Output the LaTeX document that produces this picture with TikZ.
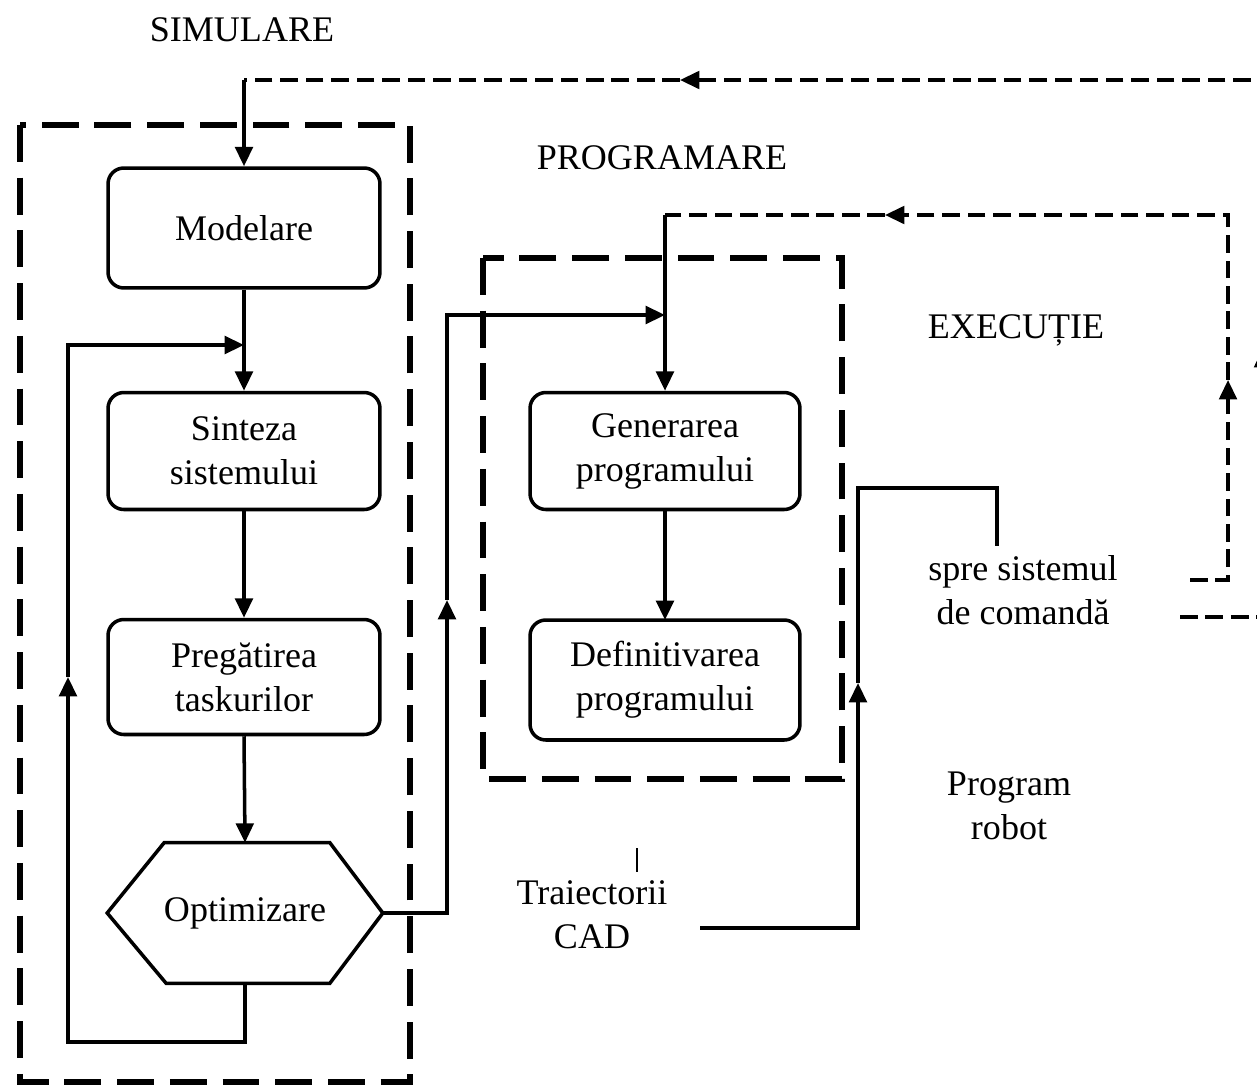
\documentclass[tikz,border=0pt]{standalone}
\usepackage{fontspec}
\setmainfont{Liberation Serif}
\usetikzlibrary{arrows.meta,calc}
\begin{document}
\begin{tikzpicture}[x=0.02cm,y=-0.02cm,
  every node/.style={font=\fontsize{20.5pt}{25pt}\selectfont, align=center, inner sep=0pt},
  conn/.style={line width=2pt},
  tip/.style={-{Triangle[length=11pt,width=10pt]}},
  box/.style={draw, line width=2pt, rounded corners=9pt, minimum width=5.44cm},
  groupframe/.style={line width=3pt, dash pattern=on 21pt off 9pt},
  fback/.style={line width=1.9pt, dash pattern=on 10pt off 4.5pt},
]
\clip (0,0) rectangle (1257,1085);

% group frames
\draw[groupframe] (20,125) rectangle (410,1082);
\draw[groupframe] (483,258) rectangle (842,779);

% group titles
\node (tsim) at (242,30) {SIMULARE};
\node (tprog) at (662,158) {PROGRAMARE};
\node (texec) at (1016,330) {EXECUȚIE};

% simulation chain
\node[box, minimum height=2.4cm] (mod) at (244,228) {Modelare};
\node[box, minimum height=2.34cm] (sin) at (244,451) {Sinteza\\sistemului};
\node[box, minimum height=2.3cm] (pre) at (244,677) {Pregătirea\\taskurilor};
\node[minimum width=5.5cm, minimum height=2.8cm] (opt) at (245,913) {Optimizare};
\draw[conn] (opt.west) -- ($(opt.north west)+(57,0)$) -- ($(opt.north east)+(-53,0)$)
  -- (opt.east) -- ($(opt.south east)+(-53,0)$) -- ($(opt.south west)+(59,0)$) -- cycle;

\draw[conn,tip] (mod.south) -- (sin.north);
\draw[conn,tip] (sin.south) -- (pre.north);
\draw[conn,tip] (pre.south) -- (opt.north);

% optimisation feedback loop
\coordinate (lpb) at (68,1042);
\coordinate (lpm) at (68,677);
\coordinate (lpt) at (68,345);
\draw[conn,tip] (opt.south) |- (lpb) -- (lpm);
\draw[conn,tip] (lpm) -- (lpt) -- (lpt -| mod.south);

% programming chain
\node[box, minimum width=5.4cm, minimum height=2.34cm] (gen) at (665,451) {Generarea\\programului};
\node[box, minimum width=5.4cm, minimum height=2.4cm] (def) at (665,680) {Definitivarea\\programului};
\draw[conn,tip] (gen.south) -- (def.south |- 0,620);

% optimisation output into program generation
\coordinate (ob) at (447,913);
\coordinate (om) at (447,600);
\coordinate (ot) at (447,315);
\draw[conn,tip] (opt.east) -- (ob) -- (om);
\draw[conn,tip] (om) -- (ot) -- (ot -| gen.north);

% feedback from execution to generation
\coordinate (r1) at (1190,580);
\coordinate (r2) at (1228,580);
\coordinate (r3) at (1228,380);
\coordinate (r4) at (1228,215);
\coordinate (r5) at (885,215);
\coordinate (r6) at (gen.north |- r4);
\draw[fback,tip] (r1) -- (r2) -- (r3);
\draw[fback,tip] (r3) -- (r4) -- (r5);
\draw[fback] (r5) -- (r6);
\draw[conn,tip] (r6) -- (gen.north);

% outer feedback from execution to modelling
\coordinate (o1) at (1180,617);
\coordinate (o2) at (1263,617);
\coordinate (o3) at (1263,348);
\coordinate (o4) at (1263,80);
\coordinate (o5) at (680,80);
\coordinate (o6) at (mod.north |- o4);
\draw[fback,tip] (o1) -- (o2) -- (o3);
\draw[fback,tip] (o3) -- (o4) -- (o5);
\draw[fback] (o5) -- (o6);
\draw[conn,tip] (o6) -- (mod.north);

% side labels
\node (spre) at (1023,590) {spre sistemul\\de comandă};
\node (prob) at (1009,806) {Program\\robot};
\node (traj) at (592,915) {Traiectorii\\CAD};
\coordinate (k1) at (637,848);
\coordinate (k2) at (637,872);
\draw[line width=1.6pt] (k1) -- (k2);

% CAD trajectories to the control system
\coordinate (c1) at (700,928);
\coordinate (c2) at (858,928);
\coordinate (c3) at (858,683);
\coordinate (c4) at (858,488);
\coordinate (c5) at (997,488);
\coordinate (c6) at (997,546);
\draw[conn,tip] (c1) -- (c2) -- (c3);
\draw[conn] (c3) -- (c4) -- (c5) -- (c6);
\end{tikzpicture}
\end{document}
